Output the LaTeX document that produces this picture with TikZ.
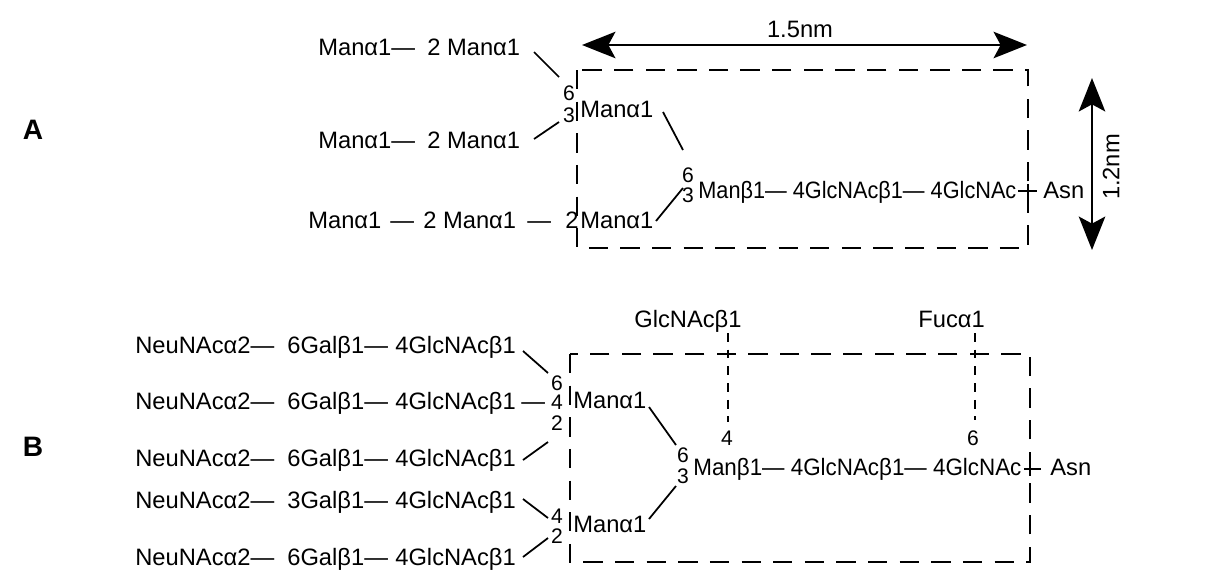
\documentclass[tikz,border=0pt]{standalone}
\usepackage{fontspec}
\setmainfont{Liberation Sans}
\usetikzlibrary{arrows.meta}
\begin{document}
\begin{tikzpicture}[x=0.02cm,y=-0.02cm,
  lbl/.style={font=\fontsize{13.5}{15}\selectfont, inner sep=0pt, anchor=base west},
  num/.style={font=\fontsize{12}{14}\selectfont, inner sep=0pt, anchor=base},
  bond/.style={line width=1pt},
  box/.style={line width=1.4pt, dash pattern=on 11pt off 7pt},
  vdash/.style={line width=1.3pt, dash pattern=on 5pt off 4.5pt},
  dim/.style={line width=1.6pt, {Stealth[length=19pt,width=15pt,inset=4pt]}-{Stealth[length=19pt,width=15pt,inset=4pt]}},
  panel/.style={font=\fontsize{16}{18}\bfseries\selectfont, inner sep=0pt}]
\useasboundingbox (0,0) rectangle (1220,569);

% ---------------- Panel A ----------------
\node[panel] (A) at (33,130) {A};

\node[lbl] (a1a) at (318,55) {Manα1—};
\node[lbl] (a1b) at (427,55) {2 Manα1};
\node[lbl] (a2a) at (318,148) {Manα1—};
\node[lbl] (a2b) at (427,148) {2 Manα1};
\node[lbl] (a3a) at (308,228) {Manα1};
\node[lbl] (a3d) at (390,228) {—};
\node[lbl] (a3b) at (423,228) {2 Manα1};
\node[lbl] (a3e) at (527,228) {—};
\node[lbl] (a3n) at (565,228) {2};
\node[lbl] (aManB) at (580,228) {Manα1};
\node[num] (a6) at (569,100) {6};
\node[num] (a3) at (569,122) {3};
\node[lbl] (aManT) at (580,117) {Manα1};
\node[num] (ac6) at (688,182) {6};
\node[num] (ac3) at (688,202) {3};
\node[lbl] (acore) at (698,198) {\scalebox{0.915}[1]{Manβ1— 4GlcNAcβ1— 4GlcNAc}};
\node[lbl] (aAsn) at (1043,198) {Asn};

\coordinate (a1s) at (534,52);  \coordinate (a1t) at (559,77);
\coordinate (a2s) at (534,139); \coordinate (a2t) at (559,122);
\coordinate (aTs) at (663,112); \coordinate (aTt) at (683,150);
\coordinate (aBs) at (656,221); \coordinate (aBt) at (683,188);
\draw[bond] (a1s) -- (a1t);
\draw[bond] (a2s) -- (a2t);
\draw[bond] (aTs) -- (aTt);
\draw[bond] (aBs) -- (aBt);

\coordinate (aboxTL) at (577,70);
\coordinate (aboxBR) at (1028,248);
\draw[box] (aboxTL) rectangle (aboxBR);
\coordinate (aAs) at (1018,191); \coordinate (aAt) at (1037,191);
\draw[bond] (aAs) -- (aAt);
\draw[line width=1.3pt] (1028,184) -- (1028,198);

\coordinate (w1) at (582,45); \coordinate (w2) at (1027,45);
\draw[dim] (w1) -- (w2);
\node[lbl, anchor=base] (wlab) at (800,37) {1.5nm};
\coordinate (h1) at (1092,78); \coordinate (h2) at (1092,250);
\draw[dim] (h1) -- (h2);
\node[font=\fontsize{13.5}{15}\selectfont, inner sep=0pt, rotate=90] (hlab) at (1111,167) {1.2nm};

% ---------------- Panel B ----------------
\node[panel] (B) at (33,447) {B};

\node[lbl] (b1a) at (135,353) {NeuNAcα2—};
\node[lbl] (b1b) at (287,353) {6Galβ1—};
\node[lbl] (b1c) at (395,353) {4GlcNAcβ1};
\node[lbl] (b2a) at (135,409) {NeuNAcα2—};
\node[lbl] (b2b) at (287,409) {6Galβ1—};
\node[lbl] (b2c) at (395,409) {4GlcNAcβ1};
\node[lbl] (b2d) at (521,409) {—};
\node[lbl] (b3a) at (135,466) {NeuNAcα2—};
\node[lbl] (b3b) at (287,466) {6Galβ1—};
\node[lbl] (b3c) at (395,466) {4GlcNAcβ1};
\node[lbl] (b4a) at (135,508) {NeuNAcα2—};
\node[lbl] (b4b) at (287,508) {3Galβ1—};
\node[lbl] (b4c) at (395,508) {4GlcNAcβ1};
\node[lbl] (b5a) at (135,565) {NeuNAcα2—};
\node[lbl] (b5b) at (287,565) {6Galβ1—};
\node[lbl] (b5c) at (395,565) {4GlcNAcβ1};

\node[num] (bn6) at (557,390) {6};
\node[num] (bn4) at (557,409) {4};
\node[num] (bn2) at (557,430) {2};
\node[num] (bm4) at (557,523) {4};
\node[num] (bm2) at (557,543) {2};

\node[lbl] (bManT) at (573,408) {Manα1};
\node[lbl] (bManB) at (573,532) {Manα1};
\node[num] (bc6) at (683,462) {6};
\node[num] (bc3) at (683,483) {3};
\node[lbl] (bcore) at (693,475) {\scalebox{0.944}[1]{Manβ1— 4GlcNAcβ1— 4GlcNAc}};
\node[lbl] (bAsn) at (1050,475) {Asn};
\node[num] (bg4) at (727,445) {4};
\node[num] (bf6) at (973,445) {6};
\node[lbl] (bGlc) at (634,327) {GlcNAcβ1};
\node[lbl] (bFuc) at (918,327) {Fucα1};

\coordinate (b1s) at (523,351); \coordinate (b1t) at (548,373);
\coordinate (b3s) at (523,460); \coordinate (b3t) at (548,442);
\coordinate (b4s) at (523,499); \coordinate (b4t) at (548,518);
\coordinate (b5s) at (523,557); \coordinate (b5t) at (548,538);
\coordinate (bTs) at (649,407); \coordinate (bTt) at (676,445);
\coordinate (bBs) at (649,519); \coordinate (bBt) at (676,486);
\draw[bond] (b1s) -- (b1t);
\draw[bond] (b3s) -- (b3t);
\draw[bond] (b4s) -- (b4t);
\draw[bond] (b5s) -- (b5t);
\draw[bond] (bTs) -- (bTt);
\draw[bond] (bBs) -- (bBt);

\coordinate (bboxTL) at (570,354);
\coordinate (bboxBR) at (1030,562);
\draw[box] (bboxTL) rectangle (bboxBR);
\coordinate (bAs) at (1024,469); \coordinate (bAt) at (1041,469);
\draw[bond] (bAs) -- (bAt);
\draw[line width=1.3pt] (1030,462) -- (1030,476);

\coordinate (gv1) at (728,333); \coordinate (gv2) at (728,422);
\draw[vdash] (gv1) -- (gv2);
\coordinate (fv1) at (975,333); \coordinate (fv2) at (975,420);
\draw[vdash] (fv1) -- (fv2);
\end{tikzpicture}
\end{document}
